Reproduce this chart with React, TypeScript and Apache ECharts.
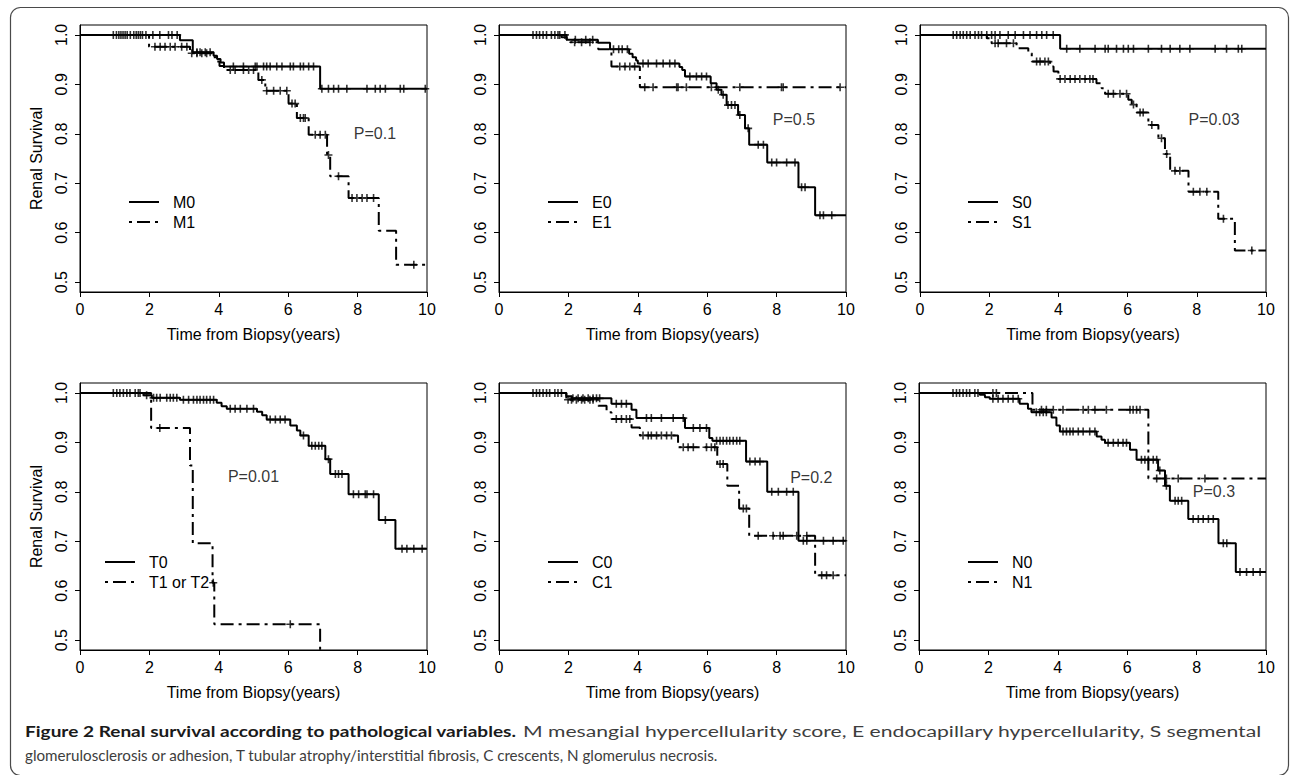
import React, { useEffect, useRef } from 'react';
import * as echarts from 'echarts';

// ---------- axis ticks ----------
const xTicks = [0, 2, 4, 6, 8, 10];
const yTicks = [0.5, 0.6, 0.7, 0.8, 0.9, 1.0];

// ---------- Panel M ----------
const m0Times = [2.88, 3.25, 3.85, 3.95, 4.05, 4.15, 6.92];
const m0Surv = [0.989, 0.965, 0.958, 0.951, 0.944, 0.936, 0.891];
const m0Censor = [0.96, 1.05, 1.12, 1.18, 1.24, 1.3, 1.36, 1.45, 1.55, 1.62, 1.68, 1.74, 1.8, 1.9, 2.1, 2.3, 2.55, 2.65, 2.8, 3.37, 3.46, 3.61, 3.75, 4.42, 4.71, 5.05, 5.1, 5.29, 5.38, 5.48, 5.67, 5.82, 6.06, 6.15, 6.35, 6.44, 6.59, 6.73, 6.97, 7.16, 7.31, 7.45, 7.69, 8.27, 8.51, 8.65, 8.8, 9.23, 9.33, 9.95];
const m1Times = [1.99, 3.17, 3.82, 3.92, 4.02, 4.15, 5.14, 5.34, 6.01, 6.25, 6.59, 7.12, 7.21, 7.74, 8.61, 9.11];
const m1Surv = [0.976, 0.963, 0.955, 0.946, 0.937, 0.929, 0.909, 0.887, 0.861, 0.832, 0.798, 0.757, 0.714, 0.67, 0.604, 0.535];
const m1Censor = [2.16, 2.31, 2.45, 2.6, 2.74, 2.93, 3.08, 3.22, 3.37, 3.51, 3.65, 4.33, 4.47, 4.71, 4.86, 5.0, 5.24, 5.38, 5.58, 5.77, 5.96, 6.11, 6.2, 6.35, 6.44, 6.49, 6.78, 6.92, 7.07, 7.16, 7.45, 7.84, 7.98, 8.13, 8.27, 8.46, 9.62];

// ---------- Panel E ----------
const e0Times = [1.8, 1.95, 2.85, 3.2, 3.75, 3.85, 3.95, 4.0, 5.2, 5.28, 5.36, 6.1, 6.27, 6.41, 6.56, 6.89, 7.09, 7.21, 7.73, 8.63, 9.11];
const e0Surv = [0.995, 0.99, 0.984, 0.971, 0.962, 0.955, 0.948, 0.942, 0.935, 0.929, 0.916, 0.902, 0.889, 0.879, 0.858, 0.838, 0.811, 0.778, 0.742, 0.692, 0.635];
const e0Censor = [0.98, 1.08, 1.17, 1.27, 1.37, 1.51, 1.61, 1.7, 2.2, 2.5, 2.7, 3.3, 3.45, 3.55, 3.7, 4.15, 4.3, 4.54, 4.73, 4.92, 5.07, 5.5, 5.69, 5.84, 5.98, 6.32, 6.46, 6.6, 6.7, 6.8, 6.94, 7.18, 7.47, 7.62, 7.86, 8.0, 8.29, 8.53, 8.72, 8.82, 9.25, 9.35, 9.59];
const e1Times = [1.95, 2.05, 2.86, 3.24, 4.06];
const e1Surv = [0.99, 0.985, 0.971, 0.936, 0.894];
const e1Censor = [1.75, 1.9, 2.18, 2.38, 2.62, 3.48, 3.63, 3.77, 3.91, 4.2, 4.44, 5.12, 5.16, 5.4, 6.12, 6.94, 8.14, 8.19, 9.83];

// ---------- Panel S ----------
const s0Times = [4.05];
const s0Surv = [0.972];
const s0Censor = [0.96, 1.06, 1.16, 1.25, 1.35, 1.45, 1.59, 1.69, 1.78, 1.93, 2.07, 2.17, 2.31, 2.55, 2.75, 2.99, 3.18, 3.37, 3.52, 3.66, 3.85, 4.24, 4.62, 5.06, 5.35, 5.44, 5.68, 5.88, 6.02, 6.17, 6.6, 6.98, 7.23, 7.51, 7.8, 8.53, 8.86, 9.2, 9.3];
const s1Times = [1.93, 2.07, 2.79, 3.13, 3.23, 3.76, 3.86, 4.0, 5.1, 5.25, 5.35, 6.02, 6.12, 6.26, 6.6, 6.89, 7.08, 7.23, 7.76, 8.62, 9.1];
const s1Surv = [0.993, 0.983, 0.973, 0.963, 0.946, 0.936, 0.926, 0.911, 0.902, 0.892, 0.881, 0.869, 0.859, 0.843, 0.818, 0.791, 0.759, 0.725, 0.683, 0.628, 0.564];
const s1Censor = [2.17, 2.26, 2.5, 2.7, 3.37, 3.47, 3.61, 3.71, 4.05, 4.19, 4.34, 4.48, 4.62, 4.77, 4.91, 5.0, 5.44, 5.59, 5.78, 5.97, 6.17, 6.36, 6.45, 6.7, 6.98, 7.13, 7.37, 7.51, 7.9, 8.09, 8.29, 8.77, 9.59];

// ---------- Panel T ----------
const t0Times = [1.83, 2.07, 2.88, 3.94, 4.08, 4.23, 5.1, 5.25, 5.38, 6.06, 6.25, 6.35, 6.59, 7.07, 7.21, 7.74, 8.61, 9.09];
const t0Surv = [0.995, 0.99, 0.986, 0.98, 0.973, 0.968, 0.962, 0.955, 0.946, 0.934, 0.924, 0.914, 0.893, 0.866, 0.836, 0.795, 0.743, 0.685];
const t0Censor = [0.96, 1.06, 1.15, 1.25, 1.35, 1.44, 1.59, 1.68, 1.73, 1.92, 2.12, 2.21, 2.31, 2.5, 2.6, 2.69, 2.79, 2.98, 3.13, 3.27, 3.37, 3.46, 3.56, 3.65, 3.75, 3.85, 4.33, 4.47, 4.62, 4.81, 5.0, 5.48, 5.63, 5.77, 5.91, 6.44, 6.68, 6.78, 6.88, 6.97, 7.16, 7.36, 7.45, 7.55, 7.88, 8.03, 8.22, 8.27, 8.46, 8.8, 9.28, 9.42, 9.62, 9.86];
const t1Times = [2.05, 3.17, 3.25, 3.82, 3.87, 6.92];
const t1Surv = [0.929, 0.853, 0.696, 0.616, 0.532, 0.0];
const t1Censor = [2.3, 3.84, 6.06];

// ---------- Panel C ----------
const c0Times = [1.94, 2.1, 3.24, 3.82, 3.96, 5.36, 6.06, 6.15, 7.12, 7.73, 8.63];
const c0Surv = [0.993, 0.989, 0.978, 0.966, 0.949, 0.929, 0.909, 0.903, 0.861, 0.8, 0.701];
const c0Censor = [0.98, 1.08, 1.17, 1.27, 1.37, 1.46, 1.61, 1.7, 1.8, 2.13, 2.28, 2.42, 2.57, 2.71, 2.81, 2.9, 3.38, 3.53, 3.67, 4.25, 4.39, 4.68, 5.02, 5.31, 5.6, 5.79, 5.98, 6.27, 6.37, 6.46, 6.56, 6.65, 6.75, 6.85, 6.94, 7.23, 7.38, 7.52, 7.86, 8.05, 8.29, 8.48, 8.77, 8.87, 9.35, 9.63, 9.92];
const c1Times = [1.94, 2.86, 3.1, 3.24, 3.82, 4.06, 5.16, 6.29, 6.58, 6.92, 7.21, 9.11];
const c1Surv = [0.986, 0.974, 0.961, 0.947, 0.93, 0.914, 0.89, 0.856, 0.812, 0.766, 0.711, 0.631];
const c1Censor = [1.99, 2.09, 2.23, 2.38, 2.47, 2.62, 2.71, 3.38, 3.53, 3.67, 3.77, 4.15, 4.3, 4.39, 4.54, 4.68, 4.83, 4.97, 5.31, 5.45, 5.6, 5.98, 6.12, 6.22, 6.37, 6.46, 7.04, 7.13, 7.47, 7.9, 8.1, 8.19, 8.58, 8.87, 9.3, 9.44, 9.63];

// ---------- Panel N ----------
const n0Times = [1.75, 1.9, 2.04, 2.9, 3.14, 3.24, 3.82, 3.96, 4.06, 5.12, 5.26, 5.36, 6.08, 6.27, 6.89, 7.09, 7.23, 7.76, 8.63, 9.13];
const n0Surv = [0.996, 0.991, 0.988, 0.978, 0.968, 0.961, 0.95, 0.934, 0.922, 0.912, 0.905, 0.899, 0.885, 0.865, 0.843, 0.812, 0.782, 0.745, 0.696, 0.638];
const n0Censor = [0.98, 1.08, 1.17, 1.27, 1.37, 1.46, 1.61, 1.7, 2.13, 2.28, 2.42, 2.57, 2.71, 2.86, 3.38, 3.48, 3.58, 3.67, 4.15, 4.25, 4.35, 4.44, 4.59, 4.73, 4.92, 5.07, 5.45, 5.6, 5.74, 5.88, 5.98, 6.41, 6.51, 6.61, 6.75, 6.85, 6.94, 7.13, 7.38, 7.47, 7.57, 7.9, 8.05, 8.19, 8.34, 8.48, 8.77, 8.87, 9.25, 9.44, 9.63, 9.83];
const n1Times = [3.27, 6.61];
const n1Surv = [0.966, 0.827];
const n1Censor = [2.13, 2.23, 3.53, 3.67, 3.87, 4.15, 4.73, 4.88, 5.07, 5.4, 6.08, 6.17, 6.27, 6.37, 6.85, 7.13, 7.47, 8.24];

// ---------- group names, p-values ----------
const groupNames = [['M0', 'M1'], ['E0', 'E1'], ['S0', 'S1'], ['T0', 'T1 or T2'], ['C0', 'C1'], ['N0', 'N1']];
const pTexts = ['P=0.1', 'P=0.5', 'P=0.03', 'P=0.01', 'P=0.2', 'P=0.3'];
const pX = [8.5, 8.5, 8.5, 5.0, 9.0, 8.5];
const pY = [0.8, 0.828, 0.828, 0.83, 0.828, 0.8];

// ---------- caption ----------
const captionBold = 'Figure 2 Renal survival according to pathological variables.';
const captionLine1 = 'M mesangial hypercellularity score, E endocapillary hypercellularity, S segmental';
const captionLine2 = 'glomerulosclerosis or adhesion, T tubular atrophy/interstitial fibrosis, C crescents, N glomerulus necrosis.';

const curveData = [
  [[m0Times, m0Surv, m0Censor], [m1Times, m1Surv, m1Censor]],
  [[e0Times, e0Surv, e0Censor], [e1Times, e1Surv, e1Censor]],
  [[s0Times, s0Surv, s0Censor], [s1Times, s1Surv, s1Censor]],
  [[t0Times, t0Surv, t0Censor], [t1Times, t1Surv, t1Censor]],
  [[c0Times, c0Surv, c0Censor], [c1Times, c1Surv, c1Censor]],
  [[n0Times, n0Surv, n0Censor], [n1Times, n1Surv, n1Censor]],
];

// layout (pixels)
const gridLeft = [80, 499, 920, 80, 499, 919];
const gridTop = [25, 25, 25, 383, 383, 383];
const gridWidth = [347, 347, 346, 347, 347, 347];
const gridHeight = 267;
const legendLeft = [128, 547, 967, 104, 547, 967];
const legendTop = [194, 194, 194, 554, 554, 554];

const FONT = '"Liberation Sans", Arial, Helvetica, sans-serif';
const DASH = [3, 5, 13, 5];
const PLUS = 'path://M-0.8,-4H0.8V4H-0.8ZM-4,-0.8H4V0.8H-4Z';

function survAt(times: number[], surv: number[], t: number) {
  let s = 1;
  for (let i = 0; i < times.length; i++) if (times[i] <= t) s = surv[i];
  return s;
}

function measure(text: string, font: string) {
  const ctx = document.createElement('canvas').getContext('2d')!;
  ctx.font = font;
  return ctx.measureText(text).width;
}

function buildOption() {
  const grid: any[] = [];
  const xAxis: any[] = [];
  const yAxis: any[] = [];
  const series: any[] = [];
  const legend: any[] = [];

  for (let i = 0; i < 6; i++) {
    grid.push({
      left: gridLeft[i], top: gridTop[i], width: gridWidth[i], height: gridHeight,
      show: true, borderColor: '#000', borderWidth: 1, backgroundColor: 'transparent',
    });
    xAxis.push({
      type: 'value', gridIndex: i, min: 0, max: 10, interval: 2,
      axisLine: { show: true, onZero: false, lineStyle: { color: '#000', width: 1 } },
      axisTick: { show: true, length: 5, lineStyle: { color: '#000', width: 1 } },
      axisLabel: { color: '#000', fontSize: 16, fontFamily: FONT, margin: 9, formatter: (v: number) => (xTicks.includes(v) ? String(v) : '') },
      splitLine: { show: false },
      name: 'Time from Biopsy(years)', nameLocation: 'middle', nameGap: 34,
      nameTextStyle: { color: '#000', fontSize: 16, fontFamily: FONT },
    });
    yAxis.push({
      type: 'value', gridIndex: i, min: 0.48, max: 1.02,
      axisLine: { show: true, onZero: false, lineStyle: { color: '#000', width: 1 } },
      axisTick: { show: true, length: 5, customValues: yTicks, lineStyle: { color: '#000', width: 1 } },
      axisLabel: { customValues: yTicks, rotate: 90, color: '#000', fontSize: 16, fontFamily: FONT, margin: 11, formatter: (v: number) => v.toFixed(1) },
      splitLine: { show: false },
      name: i % 3 === 0 ? 'Renal Survival' : '', nameLocation: 'middle', nameGap: 36,
      nameTextStyle: { color: '#000', fontSize: 16, fontFamily: FONT },
    });

    curveData[i].forEach(([times, surv, censor], g) => {
      const pts: number[][] = [[0, 1]];
      times.forEach((t, k) => pts.push([t, surv[k]]));
      pts.push([10, surv[surv.length - 1]]);
      series.push({
        type: 'line', name: groupNames[i][g], xAxisIndex: i, yAxisIndex: i,
        data: pts, step: 'end', symbol: 'none', clip: true, silent: true,
        lineStyle: { color: '#000', width: 2, type: g === 0 ? 'solid' : DASH },
        itemStyle: { color: '#000' },
      });
      series.push({
        type: 'scatter', name: groupNames[i][g] + ' censored', xAxisIndex: i, yAxisIndex: i,
        data: censor.map((t) => [t, survAt(times, surv, t)]),
        symbol: PLUS, symbolSize: 8, silent: true, clip: true,
        itemStyle: { color: '#000' },
      });
    });

    series.push({
      type: 'scatter', name: 'p' + i, xAxisIndex: i, yAxisIndex: i,
      data: [[pX[i], pY[i]]], symbolSize: 0, silent: true,
      label: { show: true, position: 'inside', formatter: pTexts[i], color: '#000', fontSize: 16, fontFamily: FONT },
    });

    legend.push({
      data: groupNames[i], left: legendLeft[i], top: legendTop[i], orient: 'vertical',
      itemWidth: 30, itemHeight: 14, itemGap: 4, padding: 0, selectedMode: false,
      itemStyle: { opacity: 0 },
      lineStyle: { width: 2 },
      textStyle: { color: '#000', fontSize: 16, fontFamily: FONT, padding: [0, 0, 0, 9] },
    });
  }

  // caption
  const CAP_SIZE = 15;
  const regFont = `${CAP_SIZE}px Lato`;
  const boldFont = `bold ${CAP_SIZE}px Lato`;
  const scale = 208 / measure('glomerulosclerosis or adhesion,', regFont);
  const boldStart = 25;
  const boldEnd = 517;
  const regStart = 523;
  const regEnd = 1263;
  const scaleBold = (boldEnd - boldStart) / measure(captionBold, boldFont);
  const scaleReg1 = (regEnd - regStart) / measure(captionLine1, regFont);

  const graphic: any[] = [
    {
      type: 'rect', shape: { x: 10.5, y: 7.5, width: 1278, height: 768, r: 10 },
      style: { fill: 'none', stroke: '#4a4a4a', lineWidth: 1.2 }, silent: true,
    },
    {
      type: 'text', x: boldStart, y: 731, scaleX: scaleBold, silent: true,
      style: { text: captionBold, fontFamily: 'Lato', fontSize: CAP_SIZE, fontWeight: 'bold', fill: '#1a1a1a', align: 'left', verticalAlign: 'middle' },
    },
    {
      type: 'text', x: regStart, y: 731, scaleX: scaleReg1, silent: true,
      style: { text: captionLine1, fontFamily: 'Lato', fontSize: CAP_SIZE, fontWeight: 'normal', fill: '#3d3d3d', align: 'left', verticalAlign: 'middle' },
    },
    {
      type: 'text', x: boldStart, y: 755, scaleX: scale, silent: true,
      style: { text: captionLine2, fontFamily: 'Lato', fontSize: CAP_SIZE, fontWeight: 'normal', fill: '#3d3d3d', align: 'left', verticalAlign: 'middle' },
    },
  ];

  return {
    animation: false,
    backgroundColor: '#fff',
    grid, xAxis, yAxis, series, legend, graphic,
  };
}

export default function App() {
  const ref = useRef<HTMLDivElement>(null);
  useEffect(() => {
    document.body.style.margin = '0';
    const chart = echarts.init(ref.current!, null, { renderer: 'svg' });
    chart.setOption(buildOption() as any);
    return () => chart.dispose();
  }, []);
  return <div ref={ref} style={{ width: 1290, height: 775 }} />;
}
